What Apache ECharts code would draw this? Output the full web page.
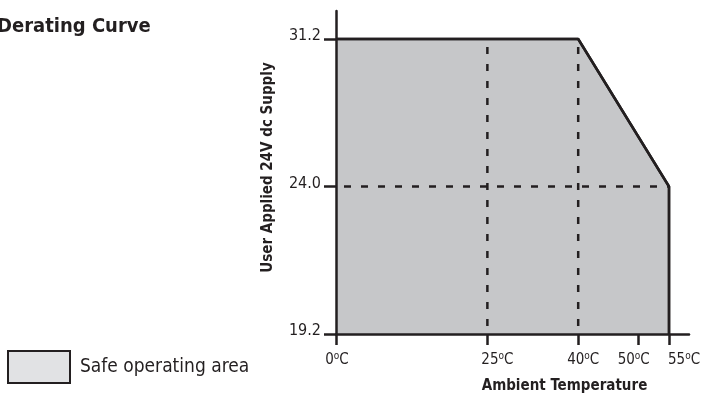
<!DOCTYPE html>
<html>
<head>
<meta charset="utf-8">
<script src="https://cdn.jsdelivr.net/npm/echarts@6/dist/echarts.min.js"></script>
<style>
html,body{margin:0;padding:0;background:#fff;}
#chart{width:702px;height:394px;}
</style>
</head>
<body>
<div id="chart"></div>
<script>
// ---- data ----
const tempTicks = [0, 25, 40, 50, 55];            // °C tick values
const voltTicks = [19.2, 24.0, 31.2];             // V tick values (axis drawn evenly spaced)
const voltLabels = ['19.2', '24.0', '31.2'];
const curveTemp = [0, 40, 55, 55];                // derating curve boundary
const curveVolt = [31.2, 31.2, 24.0, 19.2];
const dashVolt = [24.0];                          // horizontal reference line
const dashTemps = [25, 40];                       // vertical reference lines
const seriesName = 'Safe operating area';

// ---- style ----
const FONT = '"Liberation Sans Narrow", "DejaVu Sans Condensed", "Liberation Sans", sans-serif';
const INK = '#231f20';
const labelShift = {0: 1, 25: 10, 40: 5, 50: -5, 55: 15};
const X_MAX = 58.3;

// piecewise mapping of voltage onto evenly spaced tick positions
function yIdx(v) {
  for (let i = 0; i < voltTicks.length - 1; i++) {
    const a = voltTicks[i], b = voltTicks[i + 1];
    if (v <= b || i === voltTicks.length - 2) return i + (v - a) / (b - a);
  }
  return 0;
}

const rich = {
  n: {fontSize: 15, fontFamily: FONT, color: INK, lineHeight: 18},
  s: {fontSize: 10, fontFamily: FONT, color: INK, lineHeight: 18, verticalAlign: 'top', padding: [0, 0, 4, 0]}
};
Object.keys(labelShift).forEach(k => {
  const w = Math.abs(labelShift[k]) * 2;
  rich['g' + w] = {width: w, lineHeight: 18, fontSize: 15};
});
function tempLabel(v) {
  const s = labelShift[v] || 0;
  const w = Math.abs(s) * 2;
  const core = '{n|' + v + '}{s|o}{n|C}';
  if (s > 0) return '{g' + w + '| }' + core;
  if (s < 0) return core + '{g' + w + '| }';
  return core;
}

const areaData = curveTemp.map((t, i) => [t, yIdx(curveVolt[i])]);
const dashSeries = [];
dashVolt.forEach(v => {
  dashSeries.push({
    type: 'line', silent: true, showSymbol: false, z: 3,
    data: [[tempTicks[0], yIdx(v)], [curveTemp[curveTemp.length - 1], yIdx(v)]],
    lineStyle: {color: INK, width: 2.5, type: [7, 10], dashOffset: -8}
  });
});
dashTemps.forEach(t => {
  dashSeries.push({
    type: 'line', silent: true, showSymbol: false, z: 3,
    data: [[t, yIdx(voltTicks[voltTicks.length - 1])], [t, yIdx(voltTicks[0])]],
    lineStyle: {color: INK, width: 2.5, type: [7, 10], dashOffset: -8}
  });
});

const chart = echarts.init(document.getElementById('chart'));
chart.setOption({
  animation: false,
  backgroundColor: '#ffffff',
  title: {
    text: 'Derating Curve', left: -3, top: 17, padding: 0,
    textStyle: {fontFamily: FONT, fontSize: 20, fontWeight: 'bold', color: INK}
  },
  legend: {
    left: 7, top: 350, orient: 'vertical', padding: 0,
    itemWidth: 62, itemHeight: 32,
    data: [{name: seriesName, icon: 'rect',
            itemStyle: {color: '#e1e2e4', borderColor: INK, borderWidth: 2}}],
    textStyle: {fontFamily: FONT, fontSize: 19, color: INK, padding: [0, 0, 0, 5]}
  },
  grid: {left: 336, right: 13, top: 11, bottom: 60, containLabel: false, outerBoundsMode: 'none'},
  xAxis: [{
    type: 'value', min: 0, max: X_MAX, z: 6, position: 'bottom',
    name: 'Ambient Temperature', nameLocation: 'middle', nameGap: 45, nameMoveOverlap: false,
    nameTextStyle: {fontFamily: FONT, fontSize: 15, fontWeight: 'bold', color: INK, padding: [0, 0, 0, 104]},
    axisLine: {show: true, onZero: false, lineStyle: {color: INK, width: 2.5}},
    axisTick: {show: true, length: 11, lineStyle: {color: INK, width: 2.5}, customValues: tempTicks},
    axisLabel: {
      show: true, margin: 17, customValues: tempTicks.slice(0, -1), hideOverlap: false,
      formatter: tempLabel, rich: rich
    },
    splitLine: {show: false}
  }, {
    type: 'value', min: 0, max: X_MAX, z: 6, position: 'bottom', offset: 0,
    axisLine: {show: false, onZero: false},
    axisTick: {show: false},
    axisLabel: {
      show: true, margin: 17, customValues: tempTicks.slice(-1), hideOverlap: false,
      formatter: tempLabel, rich: rich
    },
    splitLine: {show: false}
  }],
  yAxis: {
    type: 'value', min: 0, max: 2.19, z: 6,
    name: 'User Applied 24V dc Supply', nameLocation: 'middle', nameGap: 60, nameRotate: 90, nameMoveOverlap: false,
    nameTextStyle: {fontFamily: FONT, fontSize: 15, fontWeight: 'bold', color: INK, padding: [0, 0, 0, 10]},
    axisLine: {show: true, onZero: false, lineStyle: {color: INK, width: 2.5}},
    axisTick: {show: true, length: 12, lineStyle: {color: INK, width: 2.5}, customValues: voltTicks.map((v, i) => i)},
    axisLabel: {
      show: true, margin: 15, customValues: voltTicks.map((v, i) => i), hideOverlap: false,
      formatter: function (v) { return '{v|' + voltLabels[Math.round(v)] + '}'; },
      rich: {v: {fontFamily: FONT, fontSize: 16, color: INK, lineHeight: 18, padding: [0, 0, 6, 0]}}
    },
    splitLine: {show: false}
  },
  series: [
    {
      name: seriesName, type: 'line', showSymbol: false, z: 2,
      data: areaData,
      lineStyle: {color: INK, width: 2.5},
      itemStyle: {color: '#e1e2e4'},
      areaStyle: {color: '#c6c7c9', opacity: 1, origin: 'start'}
    },
    ...dashSeries,
    {
      type: 'line', showSymbol: false, z: 4, silent: true,
      data: areaData,
      lineStyle: {color: INK, width: 2.5}
    }
  ]
});
</script>
</body>
</html>
